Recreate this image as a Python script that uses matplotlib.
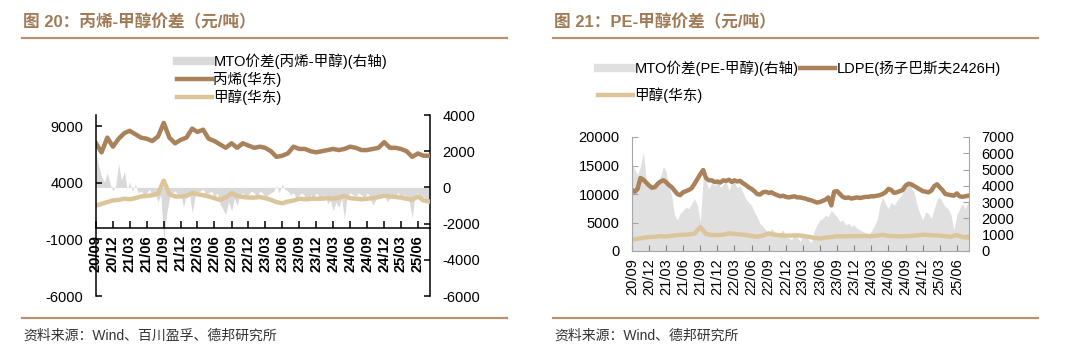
import matplotlib
matplotlib.use("Agg")
import matplotlib.pyplot as plt
from matplotlib.lines import Line2D
import pandas as pd

plt.rcParams["font.family"] = ["Liberation Sans", "Noto Sans CJK SC"]
plt.rcParams["axes.unicode_minus"] = False

# monthly and half-monthly date axes
dates_m = pd.date_range("2020-09-01", periods=60, freq="MS")
dates_h = pd.DatetimeIndex(sorted(list(dates_m) + list(dates_m + pd.Timedelta(days=15))))
xticks = pd.date_range("2020-09-01", "2025-06-01", freq="3MS")
xlabels = [d.strftime("%y/%m") for d in xticks]

# 丙烯(华东), monthly
propylene = [7500, 6700, 8000, 7200, 7900, 8400, 8600, 8300, 8000, 7900, 7700, 8100,
             9300, 8000, 7500, 7800, 8000, 8800, 8500, 8700, 7900, 7700, 7400, 7100,
             7500, 7100, 7500, 7300, 7100, 7200, 7100, 6800, 6300, 6400, 6600, 7200,
             7000, 7000, 6800, 6700, 6800, 6900, 7000, 6900, 7000, 7200, 7100, 6900,
             6900, 7000, 7100, 7600, 7100, 7100, 7000, 6800, 6300, 6600, 6400, 6400]

# 甲醇(华东), monthly
methanol = [2000, 2150, 2300, 2450, 2500, 2600, 2550, 2650, 2800, 2850, 2900, 3050,
            4200, 3000, 2800, 2800, 2850, 3100, 3000, 2900, 2800, 2650, 2500, 2700,
            3100, 2850, 2750, 2700, 2700, 2750, 2650, 2500, 2300, 2200, 2350, 2450,
            2600, 2550, 2600, 2600, 2600, 2650, 2600, 2700, 2850, 2650, 2600, 2550,
            2600, 2650, 2750, 2850, 2800, 2750, 2700, 2600, 2500, 2800, 2450, 2350]

# MTO价差(丙烯-甲醇), half-monthly, right axis
mto_pp = [1800, 1200, 600, 300, 800, 200, -200, 100,
          1300, 400, 900, -100, 300, -200, 200, -300, -200, -400, -300, -100,
          -500, -300, -800, -400, -2900, -1500, -600, -300, -200, -400, -300, -1100,
          -400, -200, -1400, -500, -300, -200, -100, -400, -300, -200, -500, -300,
          -900, -1200, -1500, -800, -1300, -600, -1000, -400, -300, -600, -400, -200,
          -300, -500, -200, -300, -600, -400, -300, -200, 100, -300, 200, -100,
          -200, -400, -300, -600, -400, -300, -500, -800, -400, -600, -300, -500,
          -600, -400, -900, -700, -1300, -800, -1100, -600, -1700, -500, -300, -400,
          -500, -300, -400, -600, -300, -500, -1000, -700, -400, -500, -300, -800,
          -600, -500, -400, -300, -600, -400, -500, -800, -1700, -400, -300, -600,
          -500, -700, -600, -400]

# LDPE(扬子巴斯夫2426H), half-monthly
ldpe = [10700, 10400, 10900, 12800, 12500, 12000, 11500, 11100,
        11200, 11800, 12200, 12400, 12100, 11600, 11200, 10600, 10000, 9800, 10300, 10500,
        10700, 11000, 11800, 12600, 13500, 14200, 12800, 12400, 12400, 12100, 12200, 12000,
        12400, 12300, 12500, 12100, 12400, 12200, 12300, 11900, 11600, 11200, 10900, 10500,
        10000, 9900, 10300, 10400, 10200, 10300, 10000, 9800, 9600, 9700, 9500, 9400,
        9500, 9600, 9400, 9400, 9300, 9200, 9000, 8900, 8700, 8500, 8600, 8800,
        9000, 9400, 8000, 10400, 10500, 10000, 9500, 9300, 9400, 9200, 9300, 9400,
        9300, 9400, 9500, 9500, 9600, 9600, 9700, 9800, 10000, 10300, 10900, 10700,
        10200, 10300, 10500, 10700, 11500, 11800, 11700, 11400, 11100, 10800, 10500, 10400,
        10300, 10600, 11400, 11700, 11200, 10700, 10000, 9900, 9800, 9700, 10100, 9600,
        9500, 9600, 9700, 9800]

# MTO价差(PE-甲醇), half-monthly, right axis
mto_pe = [5300, 5000, 4700, 5200, 6100, 4400, 3900, 4100,
          3800, 4200, 4600, 5200, 4900, 4000, 3400, 2200, 1900, 2300, 2500, 2700,
          2600, 2900, 3200, 2800, 1800, 4500, 4300, 3800, 4200, 4000, 4400, 3900,
          4100, 4300, 3700, 4200, 4300, 3900, 4000, 3600, 3200, 3000, 2800, 2400,
          2100, 1700, 1500, 1300, 1000, 1400, 1200, 1000, 1100, 1300, 900, 800,
          700, 1000, 800, 600, 900, 1100, 700, 500, 1200, 1600, 1900, 2000,
          2200, 2100, 2500, 2300, 2100, 1800, 1900, 1600, 1700, 1500, 1600, 1400,
          1300, 1200, 1100, 1000, 1200, 1500, 1900, 2800, 3300, 2900, 2600, 3000,
          2800, 3100, 3300, 3600, 4000, 4300, 3900, 3600, 2800, 2300, 1900, 2400,
          2300, 2000, 2600, 3200, 3300, 3000, 2700, 2600, 2200, 1300, 2200, 2600,
          2900, 2600, 3000, 3100]

BROWN = "#a9815a"
TAN = "#dcc59b"
GRAY = "#d9d9d9"
TITLE_C = "#a07b57"
xend = pd.Timestamp("2025-08-05")

fig = plt.figure(figsize=(10.8, 3.56), dpi=100)


def fx(px):
    return px / 1080


def fy(py):
    return 1 - py / 356


# titles, rules and footers
for x0, x1, title, src in [(22, 507, "图 20：丙烯-甲醇价差（元/吨）", "资料来源：Wind、百川盈孚、德邦研究所"),
                           (553, 1038, "图 21：PE-甲醇价差（元/吨）", "资料来源：Wind、德邦研究所")]:
    fig.text(fx(x0 + 1), fy(22), title, color=TITLE_C, fontsize=12, fontweight="bold", va="center")
    fig.add_artist(Line2D([fx(x0), fx(x1)], [fy(38), fy(38)], color="#b89270", lw=1.6))
    fig.add_artist(Line2D([fx(x0), fx(x1)], [fy(318), fy(318)], color="#b89270", lw=1.6))
    fig.text(fx(x0 + 1), fy(336), src, color="#333333", fontsize=10, va="center")

# ---- left chart
ax1 = fig.add_axes([fx(96), fy(296), 334 / 1080, 181 / 356])
ax1b = ax1.twinx()
ax1.spines["bottom"].set_position(("data", 0))
ax1b.fill_between(dates_h, 0, mto_pp, color=GRAY, lw=0)
ax1.plot(dates_m, propylene, color=BROWN, lw=3.2)
ax1.plot(dates_m, methanol, color=TAN, lw=3.2)
ax1.set_zorder(ax1b.get_zorder() + 1)
ax1.patch.set_visible(False)

ax1.set_ylim(-6000, 10000)
ax1.set_yticks([-6000, -1000, 4000, 9000])
ax1b.set_ylim(-6000, 4000)
ax1b.set_yticks(range(-6000, 4001, 2000))
ax1.set_xlim(dates_m[0], xend)
ax1.set_xticks(xticks)
ax1.set_xticklabels(xlabels, rotation=90, fontweight="bold")
for s in ["top", "right"]:
    ax1.spines[s].set_visible(False)
for s in ["top", "bottom", "left"]:
    ax1b.spines[s].set_visible(False)
for a in (ax1, ax1b):
    for s in a.spines.values():
        s.set_linewidth(1.1)
        s.set_color("black")
ax1.tick_params(axis="x", direction="in", length=5, width=1.1, pad=5, labelsize=10.5)
ax1.tick_params(axis="y", direction="in", length=4, width=1.1, pad=9, labelsize=10.5)
ax1b.tick_params(axis="y", direction="in", length=4, width=1.1, pad=9, labelsize=10.5)

fig.legend(handles=[Line2D([], [], color=GRAY, lw=6),
                    Line2D([], [], color=BROWN, lw=3.2),
                    Line2D([], [], color=TAN, lw=3.2)],
           labels=["MTO价差(丙烯-甲醇)(右轴)", "丙烯(华东)", "甲醇(华东)"],
           loc="upper left", bbox_to_anchor=(fx(177), fy(53)), frameon=False,
           fontsize=10.5, handlelength=2.4, handletextpad=0.1, labelspacing=0.2,
           borderpad=0, borderaxespad=0)

# ---- right chart
ax2 = fig.add_axes([fx(632), fy(251), 337 / 1080, 114 / 356])
ax2b = ax2.twinx()
ax2b.fill_between(dates_h, 0, mto_pe, color="#e0e0e0", lw=0)
ax2.plot(dates_h, ldpe, color=BROWN, lw=3.2)
ax2.plot(dates_m, methanol, color=TAN, lw=3.2)
ax2.set_zorder(ax2b.get_zorder() + 1)
ax2.patch.set_visible(False)

ax2.set_ylim(0, 20000)
ax2.set_yticks(range(0, 20001, 5000))
ax2b.set_ylim(0, 7000)
ax2b.set_yticks(range(0, 7001, 1000))
ax2.set_xlim(dates_m[0], xend)
ax2.set_xticks(xticks)
ax2.set_xticklabels(xlabels, rotation=90)
for s in ["top", "right"]:
    ax2.spines[s].set_visible(False)
for s in ["top", "bottom", "left"]:
    ax2b.spines[s].set_visible(False)
for a in (ax2, ax2b):
    for s in a.spines.values():
        s.set_linewidth(0.8)
        s.set_color("#a6a6a6")
ax2.tick_params(axis="x", direction="in", length=4, color="#808080", pad=5, labelsize=10.5)
ax2.tick_params(axis="y", direction="in", length=4, color="#a6a6a6", pad=9, labelsize=10.5)
ax2b.tick_params(axis="y", direction="in", length=4, color="#a6a6a6", pad=9, labelsize=10.5)

fig.legend(handles=[Line2D([], [], color="#e0e0e0", lw=6),
                    Line2D([], [], color=TAN, lw=3.2),
                    Line2D([], [], color=BROWN, lw=3.2)],
           labels=["MTO价差(PE-甲醇)(右轴)", "甲醇(华东)", "LDPE(扬子巴斯夫2426H)"],
           ncol=2, loc="upper left", bbox_to_anchor=(fx(598), fy(60)), frameon=False,
           fontsize=10.5, handlelength=2.4, handletextpad=0.1, labelspacing=0.8,
           columnspacing=0.1, borderpad=0, borderaxespad=0)

fig.savefig("out.png", dpi=100, facecolor="white")
